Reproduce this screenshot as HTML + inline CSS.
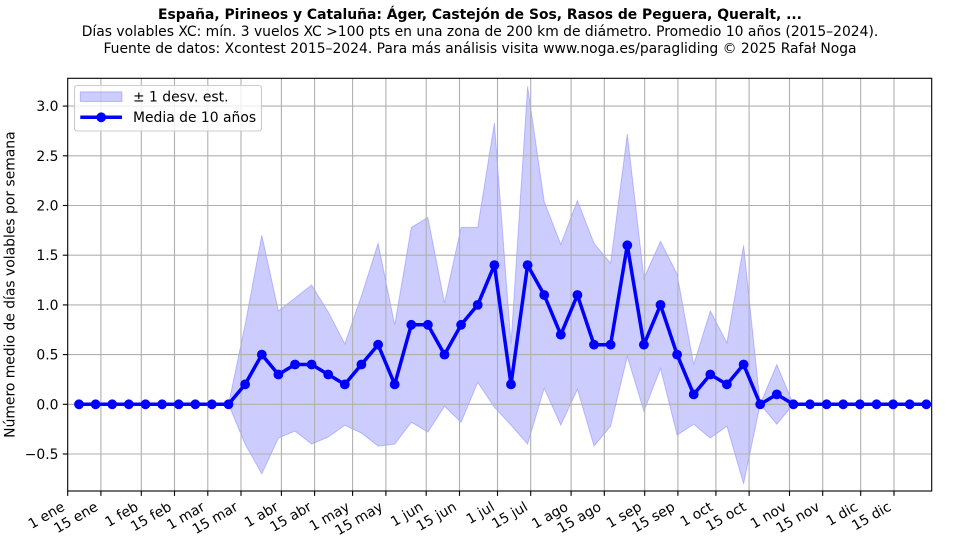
<!DOCTYPE html>
<html><head><meta charset="utf-8"><style>
html,body{margin:0;padding:0;background:#fff;}
svg{display:block;font-family:"DejaVu Sans","Liberation Sans",sans-serif;}
</style></head><body>
<svg width="960" height="540" viewBox="0 0 960 540" xmlns="http://www.w3.org/2000/svg">
<rect width="960" height="540" fill="#fff"/>
<!-- titles -->
<g font-size="13.9" text-anchor="middle" fill="#000">
<text x="480" y="19" font-weight="bold">España, Pirineos y Cataluña: Áger, Castejón de Sos, Rasos de Peguera, Queralt, ...</text>
<text x="480" y="36">Días volables XC: mín. 3 vuelos XC &gt;100 pts en una zona de 200 km de diámetro. Promedio 10 años (2015–2024).</text>
<text x="480" y="53">Fuente de datos: Xcontest 2015–2024. Para más análisis visita www.noga.es/paragliding © 2025 Rafał Noga</text>
</g>
<!-- band -->
<polygon fill="#0000ff" fill-opacity="0.2" stroke="#0000ff" stroke-opacity="0.2" stroke-width="1" points="79,404.3 95.6,404.3 112.2,404.3 128.8,404.3 145.5,404.3 162.1,404.3 178.7,404.3 195.3,404.3 211.9,404.3 228.5,404.3 245.1,324.8 261.8,235.3 278.4,310.9 295,298 311.6,285 328.2,311.9 344.8,343.7 361.4,296 378.1,243.3 394.7,324.8 411.3,227.4 427.9,217.4 444.5,302.9 461.1,227.4 477.7,227.4 494.4,123 511,343.7 527.6,86.2 544.2,201.5 560.8,244.3 577.4,200.5 594,243.3 610.6,263.2 627.3,133.9 643.9,278.1 660.5,241.3 677.1,274.1 693.7,364.5 710.3,310.9 726.9,342.7 743.6,245.3 760.2,404.3 776.8,364.5 793.4,404.3 926.3,404.3 793.4,404.3 776.8,424.2 760.2,404.3 743.6,483.8 726.9,426.2 710.3,438.1 693.7,424.2 677.1,435.1 660.5,368.5 643.9,411.3 627.3,356.6 610.6,426.2 594,446.1 577.4,389.4 560.8,425.2 544.2,388.4 527.6,444.1 511,425.2 494.4,407.3 477.7,382.4 461.1,422.2 444.5,406.3 427.9,432.1 411.3,422.2 394.7,444.1 378.1,446.1 361.4,433.1 344.8,425.2 328.2,437.1 311.6,444.1 295,431.1 278.4,438.1 261.8,473.9 245.1,444.1 228.5,404.3 79,404.3"/>
<!-- grid -->
<g stroke="#b0b0b0" stroke-width="1.1">
<line x1="100.9" y1="78.3" x2="100.9" y2="491"/><line x1="141.3" y1="78.3" x2="141.3" y2="491"/><line x1="174.5" y1="78.3" x2="174.5" y2="491"/><line x1="207.8" y1="78.3" x2="207.8" y2="491"/><line x1="241" y1="78.3" x2="241" y2="491"/><line x1="281.4" y1="78.3" x2="281.4" y2="491"/><line x1="314.6" y1="78.3" x2="314.6" y2="491"/><line x1="352.6" y1="78.3" x2="352.6" y2="491"/><line x1="385.9" y1="78.3" x2="385.9" y2="491"/><line x1="426.2" y1="78.3" x2="426.2" y2="491"/><line x1="459.5" y1="78.3" x2="459.5" y2="491"/><line x1="497.5" y1="78.3" x2="497.5" y2="491"/><line x1="530.7" y1="78.3" x2="530.7" y2="491"/><line x1="571.1" y1="78.3" x2="571.1" y2="491"/><line x1="604.3" y1="78.3" x2="604.3" y2="491"/><line x1="644.7" y1="78.3" x2="644.7" y2="491"/><line x1="677.9" y1="78.3" x2="677.9" y2="491"/><line x1="715.9" y1="78.3" x2="715.9" y2="491"/><line x1="749.1" y1="78.3" x2="749.1" y2="491"/><line x1="789.5" y1="78.3" x2="789.5" y2="491"/><line x1="822.7" y1="78.3" x2="822.7" y2="491"/><line x1="860.7" y1="78.3" x2="860.7" y2="491"/><line x1="894" y1="78.3" x2="894" y2="491"/>
<line x1="67.7" y1="106.1" x2="931.7" y2="106.1"/><line x1="67.7" y1="155.8" x2="931.7" y2="155.8"/><line x1="67.7" y1="205.5" x2="931.7" y2="205.5"/><line x1="67.7" y1="255.2" x2="931.7" y2="255.2"/><line x1="67.7" y1="304.9" x2="931.7" y2="304.9"/><line x1="67.7" y1="354.6" x2="931.7" y2="354.6"/><line x1="67.7" y1="404.3" x2="931.7" y2="404.3"/><line x1="67.7" y1="454" x2="931.7" y2="454"/>
</g>
<!-- mean line -->
<g fill="#0000ff" stroke="none">
<polyline fill="none" stroke="#0000ff" stroke-width="3.5" stroke-linejoin="round" stroke-linecap="square" points="79,404.3 95.6,404.3 112.2,404.3 128.8,404.3 145.5,404.3 162.1,404.3 178.7,404.3 195.3,404.3 211.9,404.3 228.5,404.3 245.1,384.4 261.8,354.6 278.4,374.5 295,364.5 311.6,364.5 328.2,374.5 344.8,384.4 361.4,364.5 378.1,344.7 394.7,384.4 411.3,324.8 427.9,324.8 444.5,354.6 461.1,324.8 477.7,304.9 494.4,265.1 511,384.4 527.6,265.1 544.2,295 560.8,334.7 577.4,295 594,344.7 610.6,344.7 627.3,245.3 643.9,344.7 660.5,304.9 677.1,354.6 693.7,394.4 710.3,374.5 726.9,384.4 743.6,364.5 760.2,404.3 776.8,394.4 793.4,404.3 810,404.3 826.6,404.3 843.2,404.3 859.9,404.3 876.5,404.3 893.1,404.3 909.7,404.3 926.3,404.3"/>
<circle cx="79" cy="404.3" r="4.9"/><circle cx="95.6" cy="404.3" r="4.9"/><circle cx="112.2" cy="404.3" r="4.9"/><circle cx="128.8" cy="404.3" r="4.9"/><circle cx="145.5" cy="404.3" r="4.9"/><circle cx="162.1" cy="404.3" r="4.9"/><circle cx="178.7" cy="404.3" r="4.9"/><circle cx="195.3" cy="404.3" r="4.9"/><circle cx="211.9" cy="404.3" r="4.9"/><circle cx="228.5" cy="404.3" r="4.9"/><circle cx="245.1" cy="384.4" r="4.9"/><circle cx="261.8" cy="354.6" r="4.9"/><circle cx="278.4" cy="374.5" r="4.9"/><circle cx="295" cy="364.5" r="4.9"/><circle cx="311.6" cy="364.5" r="4.9"/><circle cx="328.2" cy="374.5" r="4.9"/><circle cx="344.8" cy="384.4" r="4.9"/><circle cx="361.4" cy="364.5" r="4.9"/><circle cx="378.1" cy="344.7" r="4.9"/><circle cx="394.7" cy="384.4" r="4.9"/><circle cx="411.3" cy="324.8" r="4.9"/><circle cx="427.9" cy="324.8" r="4.9"/><circle cx="444.5" cy="354.6" r="4.9"/><circle cx="461.1" cy="324.8" r="4.9"/><circle cx="477.7" cy="304.9" r="4.9"/><circle cx="494.4" cy="265.1" r="4.9"/><circle cx="511" cy="384.4" r="4.9"/><circle cx="527.6" cy="265.1" r="4.9"/><circle cx="544.2" cy="295" r="4.9"/><circle cx="560.8" cy="334.7" r="4.9"/><circle cx="577.4" cy="295" r="4.9"/><circle cx="594" cy="344.7" r="4.9"/><circle cx="610.6" cy="344.7" r="4.9"/><circle cx="627.3" cy="245.3" r="4.9"/><circle cx="643.9" cy="344.7" r="4.9"/><circle cx="660.5" cy="304.9" r="4.9"/><circle cx="677.1" cy="354.6" r="4.9"/><circle cx="693.7" cy="394.4" r="4.9"/><circle cx="710.3" cy="374.5" r="4.9"/><circle cx="726.9" cy="384.4" r="4.9"/><circle cx="743.6" cy="364.5" r="4.9"/><circle cx="760.2" cy="404.3" r="4.9"/><circle cx="776.8" cy="394.4" r="4.9"/><circle cx="793.4" cy="404.3" r="4.9"/><circle cx="810" cy="404.3" r="4.9"/><circle cx="826.6" cy="404.3" r="4.9"/><circle cx="843.2" cy="404.3" r="4.9"/><circle cx="859.9" cy="404.3" r="4.9"/><circle cx="876.5" cy="404.3" r="4.9"/><circle cx="893.1" cy="404.3" r="4.9"/><circle cx="909.7" cy="404.3" r="4.9"/><circle cx="926.3" cy="404.3" r="4.9"/>
</g>
<!-- frame -->
<rect x="67.7" y="78.3" width="864" height="412.7" fill="none" stroke="#000" stroke-width="1.1"/>
<!-- ticks -->
<g stroke="#000" stroke-width="1.1">
<line x1="62.8" y1="106.1" x2="67.7" y2="106.1"/><line x1="62.8" y1="155.8" x2="67.7" y2="155.8"/><line x1="62.8" y1="205.5" x2="67.7" y2="205.5"/><line x1="62.8" y1="255.2" x2="67.7" y2="255.2"/><line x1="62.8" y1="304.9" x2="67.7" y2="304.9"/><line x1="62.8" y1="354.6" x2="67.7" y2="354.6"/><line x1="62.8" y1="404.3" x2="67.7" y2="404.3"/><line x1="62.8" y1="454" x2="67.7" y2="454"/>
<line x1="67.7" y1="491" x2="67.7" y2="495.9"/><line x1="100.9" y1="491" x2="100.9" y2="495.9"/><line x1="141.3" y1="491" x2="141.3" y2="495.9"/><line x1="174.5" y1="491" x2="174.5" y2="495.9"/><line x1="207.8" y1="491" x2="207.8" y2="495.9"/><line x1="241" y1="491" x2="241" y2="495.9"/><line x1="281.4" y1="491" x2="281.4" y2="495.9"/><line x1="314.6" y1="491" x2="314.6" y2="495.9"/><line x1="352.6" y1="491" x2="352.6" y2="495.9"/><line x1="385.9" y1="491" x2="385.9" y2="495.9"/><line x1="426.2" y1="491" x2="426.2" y2="495.9"/><line x1="459.5" y1="491" x2="459.5" y2="495.9"/><line x1="497.5" y1="491" x2="497.5" y2="495.9"/><line x1="530.7" y1="491" x2="530.7" y2="495.9"/><line x1="571.1" y1="491" x2="571.1" y2="495.9"/><line x1="604.3" y1="491" x2="604.3" y2="495.9"/><line x1="644.7" y1="491" x2="644.7" y2="495.9"/><line x1="677.9" y1="491" x2="677.9" y2="495.9"/><line x1="715.9" y1="491" x2="715.9" y2="495.9"/><line x1="749.1" y1="491" x2="749.1" y2="495.9"/><line x1="789.5" y1="491" x2="789.5" y2="495.9"/><line x1="822.7" y1="491" x2="822.7" y2="495.9"/><line x1="860.7" y1="491" x2="860.7" y2="495.9"/><line x1="894" y1="491" x2="894" y2="495.9"/>
</g>
<!-- y tick labels -->
<g font-size="13.9" text-anchor="end" fill="#000">
<text x="58.5" y="111.1">3.0</text><text x="58.5" y="160.8">2.5</text><text x="58.5" y="210.5">2.0</text><text x="58.5" y="260.2">1.5</text><text x="58.5" y="309.9">1.0</text><text x="58.5" y="359.6">0.5</text><text x="58.5" y="409.3">0.0</text><text x="58.5" y="459">−0.5</text>
</g>
<!-- y axis label -->
<text font-size="13.9" text-anchor="middle" transform="translate(14.5,284.6) rotate(-90)">Número medio de días volables por semana</text>
<!-- x tick labels -->
<g font-size="13.9" text-anchor="end" fill="#000">
<text transform="translate(65.7,509.5) rotate(-30)">1 ene</text>
<text transform="translate(98.9,509.5) rotate(-30)">15 ene</text>
<text transform="translate(139.3,509.5) rotate(-30)">1 feb</text>
<text transform="translate(172.5,509.5) rotate(-30)">15 feb</text>
<text transform="translate(205.8,509.5) rotate(-30)">1 mar</text>
<text transform="translate(239,509.5) rotate(-30)">15 mar</text>
<text transform="translate(279.4,509.5) rotate(-30)">1 abr</text>
<text transform="translate(312.6,509.5) rotate(-30)">15 abr</text>
<text transform="translate(350.6,509.5) rotate(-30)">1 may</text>
<text transform="translate(383.9,509.5) rotate(-30)">15 may</text>
<text transform="translate(424.2,509.5) rotate(-30)">1 jun</text>
<text transform="translate(457.5,509.5) rotate(-30)">15 jun</text>
<text transform="translate(495.5,509.5) rotate(-30)">1 jul</text>
<text transform="translate(528.7,509.5) rotate(-30)">15 jul</text>
<text transform="translate(569.1,509.5) rotate(-30)">1 ago</text>
<text transform="translate(602.3,509.5) rotate(-30)">15 ago</text>
<text transform="translate(642.7,509.5) rotate(-30)">1 sep</text>
<text transform="translate(675.9,509.5) rotate(-30)">15 sep</text>
<text transform="translate(713.9,509.5) rotate(-30)">1 oct</text>
<text transform="translate(747.1,509.5) rotate(-30)">15 oct</text>
<text transform="translate(787.5,509.5) rotate(-30)">1 nov</text>
<text transform="translate(820.7,509.5) rotate(-30)">15 nov</text>
<text transform="translate(858.7,509.5) rotate(-30)">1 dic</text>
<text transform="translate(892,509.5) rotate(-30)">15 dic</text>
</g>
<!-- legend -->
<rect x="74.5" y="85.5" width="187" height="45.5" rx="2.8" fill="#fff" fill-opacity="0.8" stroke="#cccccc" stroke-width="1.1"/>
<rect x="80.3" y="91.8" width="41.7" height="9.8" fill="#0000ff" fill-opacity="0.2" stroke="#0000ff" stroke-opacity="0.2" stroke-width="1"/>
<line x1="80.3" y1="117.3" x2="122" y2="117.3" stroke="#0000ff" stroke-width="3.5"/>
<circle cx="101.2" cy="117.3" r="4.9" fill="#0000ff"/>
<g font-size="13.9" fill="#000">
<text x="133" y="101.5">± 1 desv. est.</text>
<text x="133" y="122.2">Media de 10 años</text>
</g>
</svg>
</body></html>
